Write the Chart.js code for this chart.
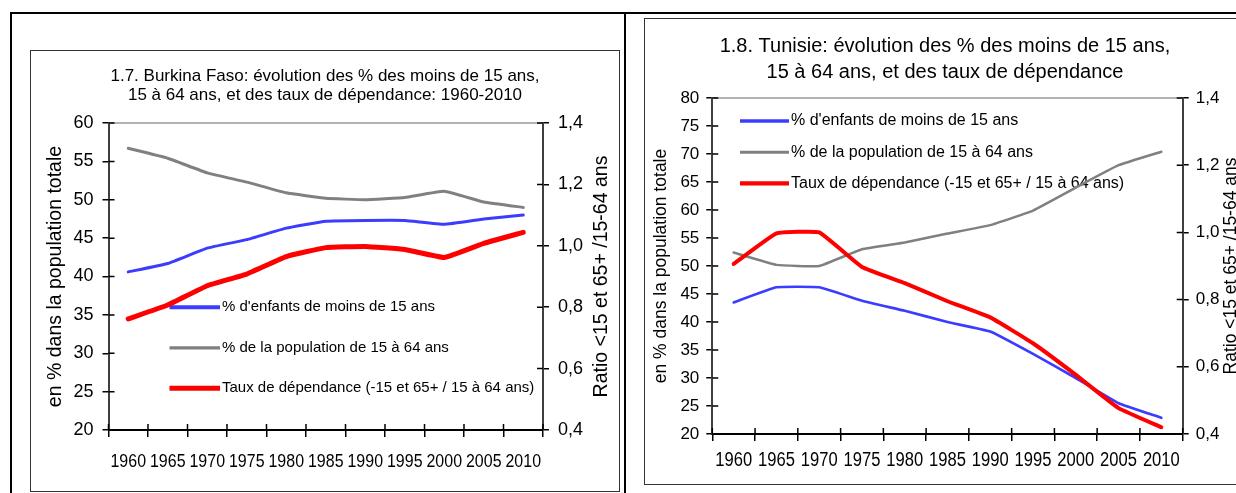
<!DOCTYPE html>
<html lang="fr">
<head>
<meta charset="utf-8">
<title>Burkina Faso et Tunisie : moins de 15 ans, 15-64 ans et taux de dépendance</title>
<script src="https://cdn.jsdelivr.net/npm/chart.js@4.4.1/dist/chart.umd.min.js"></script>
<style>
  html, body { margin: 0; padding: 0; background: #fff; overflow: hidden; }
  body { width: 1236px; height: 493px; position: relative; }
  .rule { position: absolute; background: #000; }
  .frame { position: absolute; border: 1px solid #333; box-sizing: border-box; }
  canvas { position: absolute; }
</style>
</head>
<body>
<div class="rule" style="left:10px;top:12px;width:1240px;height:2px"></div>
<div class="rule" style="left:10px;top:12px;width:2px;height:490px"></div>
<div class="rule" style="left:624px;top:12px;width:2px;height:490px"></div>
<div class="frame" style="left:30px;top:50px;width:590px;height:442px"></div>
<div class="frame" style="left:644px;top:18px;width:620px;height:467px"></div>
<canvas id="bf" width="588" height="441" style="left:31px;top:50px"></canvas>
<canvas id="tn" width="600" height="465" style="left:645px;top:19px"></canvas>

<script>
// values
const years = ['1960', '1965', '1970', '1975', '1980', '1985', '1990', '1995', '2000', '2005', '2010'];

const bfUnder15    = [40.6, 41.7, 43.7, 44.8, 46.3, 47.2, 47.3, 47.3, 46.8, 47.5, 48.0];
const bfAge15to64  = [56.7, 55.4, 53.5, 52.3, 50.9, 50.2, 50.0, 50.3, 51.1, 49.7, 49.0];
const bfDependency = [0.762, 0.807, 0.87, 0.908, 0.965, 0.994, 0.998, 0.988, 0.962, 1.008, 1.044];

const tnUnder15    = [43.5, 46.2, 46.2, 43.8, 42.0, 40.0, 38.3, 34.3, 30.0, 25.5, 22.9];
const tnAge15to64  = [52.4, 50.2, 50.0, 53.0, 54.2, 55.8, 57.3, 59.9, 64.0, 68.0, 70.4];
const tnDependency = [0.906, 0.997, 1.0, 0.897, 0.849, 0.795, 0.747, 0.67, 0.576, 0.477, 0.42];

const seriesLabels = [
  "% d'enfants de moins de 15 ans",
  '% de la population de 15 à 64 ans',
  'Taux de dépendance (-15 et 65+ / 15 à 64 ans)'
];
const leftAxisTitle = 'en % dans la population totale';
const rightAxisTitle = 'Ratio <15 et 65+ /15-64 ans';

const FONT = "'Liberation Sans', Arial, sans-serif";
const BLUE = '#3c3cff';
const GREY = '#808080';
const RED = '#ff0000';

const comma = v => v.toFixed(1).replace('.', ',');

// legend sits inside the plot area, as in the original
const insideLegend = {
  id: 'insideLegend',
  beforeDatasetsDraw(chart, args, o) {
    const { ctx, chartArea } = chart;
    ctx.save();
    ctx.font = o.size + 'px ' + FONT;
    ctx.textBaseline = 'middle';
    ctx.fillStyle = '#000';
    chart.data.datasets.forEach((ds, i) => {
      const x = chartArea.left + o.x;
      const y = chartArea.top + o.y + i * o.gap;
      ctx.strokeStyle = ds.borderColor;
      ctx.lineWidth = o.widths[i];
      ctx.beginPath();
      ctx.moveTo(x, y);
      ctx.lineTo(x + o.len, y);
      ctx.stroke();
      ctx.fillText(ds.label, x + o.len + 2, y);
    });
    ctx.restore();
  }
};

// grey top line, ticks crossing the axes, condensed year labels,
// and the right axis title read bottom-up
const axisFrame = {
  id: 'axisFrame',
  afterDraw(chart, args, o) {
    const { ctx, chartArea: a, scales } = chart;
    ctx.save();
    ctx.strokeStyle = '#999';
    ctx.lineWidth = 1.5;
    ctx.beginPath();
    ctx.moveTo(a.left, a.top);
    ctx.lineTo(a.right, a.top);
    ctx.stroke();

    ctx.strokeStyle = '#000';
    ctx.lineWidth = 1.5;
    ctx.beginPath();
    const x = scales.x, n = x.ticks.length;
    for (let i = 0; i <= n; i++) {
      const px = x.left + i * x.width / n;
      ctx.moveTo(px, a.bottom);
      ctx.lineTo(px, a.bottom - o.inner);
    }
    scales.y.ticks.forEach((t, i) => {
      const py = scales.y.getPixelForTick(i);
      ctx.moveTo(a.left, py);
      ctx.lineTo(a.left + o.inner, py);
    });
    scales.y1.ticks.forEach((t, i) => {
      const py = scales.y1.getPixelForTick(i);
      ctx.moveTo(a.right, py);
      ctx.lineTo(a.right - o.inner, py);
    });
    ctx.stroke();

    ctx.fillStyle = '#000';
    ctx.textAlign = 'center';
    ctx.textBaseline = 'middle';
    ctx.font = o.xSize + 'px ' + FONT;
    x.ticks.forEach((t, i) => {
      ctx.save();
      ctx.translate(x.getPixelForTick(i), a.bottom + o.xOffset);
      ctx.scale(o.xSquash, 1);
      ctx.fillText(x.getLabelForValue(t.value), 0, 0);
      ctx.restore();
    });

    ctx.font = o.titleSize + 'px ' + FONT;
    ctx.translate(chart.width - o.titleInset, (a.top + a.bottom) / 2);
    ctx.rotate(-Math.PI / 2);
    ctx.fillText(rightAxisTitle, 0, 0);
    ctx.restore();
  }
};

function buildChart(id, d) {
  return new Chart(document.getElementById(id), {
    type: 'line',
    data: {
      labels: years,
      datasets: [
        { label: seriesLabels[0], data: d.under15, borderColor: BLUE, borderWidth: d.lw[0], yAxisID: 'y', order: 1 },
        { label: seriesLabels[1], data: d.age15to64, borderColor: GREY, borderWidth: d.lw[1], yAxisID: 'y', order: 2 },
        { label: seriesLabels[2], data: d.dependency, borderColor: RED, borderWidth: d.lw[2], yAxisID: 'y1', order: 0 }
      ]
    },
    options: {
      responsive: false,
      animation: false,
      layout: { padding: 0 },
      elements: {
        point: { radius: 0 },
        line: { tension: 0.1, borderCapStyle: 'round', borderJoinStyle: 'round' }
      },
      plugins: {
        legend: { display: false },
        tooltip: { enabled: false },
        title: {
          display: true,
          text: d.title,
          color: '#000',
          font: { family: FONT, size: d.titleSize, weight: 'normal', lineHeight: d.titleLine },
          padding: d.titlePad
        },
        insideLegend: d.legend,
        axisFrame: {
          inner: 6,
          titleSize: d.axisTitleSize, titleInset: d.rightTitleInset,
          xSize: d.xSize, xSquash: d.xSquash, xOffset: d.xOffset
        }
      },
      scales: {
        x: {
          offset: true,
          grid: { offset: true, drawOnChartArea: false, tickLength: 7, color: '#000', lineWidth: 1.5 },
          border: { color: '#000', width: 2 },
          ticks: { display: false, autoSkip: false },
          afterFit: s => { s.height = d.xHeight; }
        },
        y: {
          min: 20,
          max: d.yMax,
          grid: { drawOnChartArea: false, tickLength: 6, color: '#000', lineWidth: 1.5 },
          border: { color: '#404040', width: 2 },
          ticks: { stepSize: 5, maxTicksLimit: 20, color: '#000', padding: d.yPad, font: { family: FONT, size: d.tickSize } },
          title: {
            display: true,
            text: leftAxisTitle,
            color: '#000',
            font: { family: FONT, size: d.axisTitleSize },
            padding: { top: d.leftTitlePad, bottom: 0 }
          },
          afterFit: s => { s.width = d.leftW; }
        },
        y1: {
          position: 'right',
          min: 0.4,
          max: 1.4,
          grid: { drawOnChartArea: false, tickLength: 6, color: '#000', lineWidth: 1.5 },
          border: { color: '#404040', width: 2 },
          ticks: { stepSize: 0.2, color: '#000', padding: d.yPad, callback: comma, font: { family: FONT, size: d.tickSize } },
          afterFit: s => { s.width = d.rightW; }
        }
      }
    },
    plugins: [insideLegend, axisFrame]
  });
}

buildChart('bf', {
  under15: bfUnder15, age15to64: bfAge15to64, dependency: bfDependency,
  lw: [3, 3, 5],
  title: ['1.7. Burkina Faso: évolution des % des moins de 15 ans,', '15 à 64 ans, et des taux de dépendance: 1960-2010'],
  titleSize: 17, titleLine: 18.8 / 17, titlePad: { top: 17.3, bottom: 18.1 },
  legend: { x: 61, y: 184.3, gap: 40.5, len: 50.5, size: 15, widths: [4, 3.3, 5] },
  axisTitleSize: 19.5, leftTitlePad: 12.5, rightTitleInset: 17.3,
  xSize: 19, xSquash: 0.84, xOffset: 31.7, xHeight: 61,
  yMax: 60, tickSize: 18, yPad: 9,
  leftW: 77.5, rightW: 76
});

buildChart('tn', {
  under15: tnUnder15, age15to64: tnAge15to64, dependency: tnDependency,
  lw: [2.7, 2.5, 4],
  title: ['1.8. Tunisie: évolution des % des moins de 15 ans,', '15 à 64 ans, et des taux de dépendance'],
  titleSize: 20, titleLine: 1.33, titlePad: { top: 13.9, bottom: 11.9 },
  legend: { x: 27.7, y: 23, gap: 31.2, len: 49, size: 16, widths: [3.3, 3, 4.3] },
  axisTitleSize: 17.5, leftTitlePad: 5.5, rightTitleInset: 13.5,
  xSize: 19.5, xSquash: 0.85, xOffset: 26.5, xHeight: 50,
  yMax: 80, tickSize: 17, yPad: 7,
  leftW: 67.3, rightW: 62.3
});
</script>
</body>
</html>
